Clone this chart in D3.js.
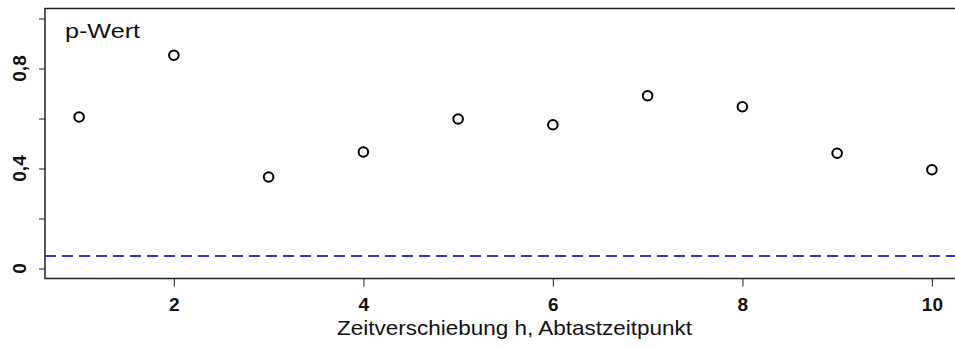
<!DOCTYPE html>
<html>
<head>
<meta charset="utf-8">
<script src="https://cdn.jsdelivr.net/npm/d3@7"></script>
<style>
  body { margin: 0; background: #fff; }
  svg { display: block; overflow: hidden; }
</style>
</head>
<body>
<svg id="chart"></svg>
<script>
// lags (h) and p-values
var lags = [1, 2, 3, 4, 5, 6, 7, 8, 9, 10]
var pValues = [0.606, 0.853, 0.366, 0.466, 0.598, 0.575, 0.691, 0.647, 0.461, 0.395]
var alpha = 0.05
var xTicks = [2, 4, 6, 8, 10]
var yTicks = [0, 0.2, 0.4, 0.6, 0.8, 1.0]
var yLabelled = [0, 0.4, 0.8]

var dimensions = {
  width: 955,
  height: 347,
  margin: { top: 8.5, bottom: 68.5, left: 45, right: -11 }
}
dimensions.boundedWidth = dimensions.width - dimensions.margin.left - dimensions.margin.right
dimensions.boundedHeight = dimensions.height - dimensions.margin.top - dimensions.margin.bottom

var svg = d3.select("#chart")
  .attr("width", dimensions.width)
  .attr("height", dimensions.height)

// R style: 4% padding around the data range
var xScale = d3.scaleLinear()
  .domain([0.64, 10.36])
  .range([dimensions.margin.left, dimensions.margin.left + dimensions.boundedWidth])

var yScale = d3.scaleLinear()
  .domain([-0.04, 1.04])
  .range([dimensions.margin.top + dimensions.boundedHeight, dimensions.margin.top])

var fmt = function (d) { return String(d).replace(".", ",") }

// x axis
var xAxis = svg.append("g")
  .attr("transform", "translate(0," + yScale(-0.04) + ")")
  .call(d3.axisBottom(xScale).tickValues(xTicks).tickSize(8).tickPadding(11).tickFormat(d3.format("d")))
xAxis.select(".domain").remove()
xAxis.selectAll("line").attr("stroke", "#444").attr("stroke-width", 1.2)
xAxis.selectAll("text")
  .attr("font-family", "Liberation Sans, Arial, sans-serif")
  .attr("font-size", 19)
  .attr("font-weight", "bold")
  .attr("fill", "#111")

// y axis
var yAxis = svg.append("g")
  .attr("transform", "translate(" + xScale(0.64) + ",0)")
  .call(d3.axisLeft(yScale).tickValues(yTicks).tickSize(6).tickFormat(""))
yAxis.select(".domain").remove()
yAxis.selectAll("line").attr("stroke", "#444").attr("stroke-width", 1.2)

svg.append("g")
  .selectAll("text")
  .data(yLabelled)
  .enter()
  .append("text")
  .attr("transform", function (d) { return "translate(26," + yScale(d) + ") rotate(-90)" })
  .attr("text-anchor", "middle")
  .attr("font-family", "Liberation Sans, Arial, sans-serif")
  .attr("font-size", 19)
  .attr("font-weight", "bold")
  .attr("fill", "#111")
  .text(fmt)

// frame
svg.append("rect")
  .attr("x", xScale(0.64))
  .attr("y", yScale(1.04))
  .attr("width", xScale(10.36) - xScale(0.64))
  .attr("height", yScale(-0.04) - yScale(1.04))
  .attr("fill", "none")
  .attr("stroke", "#222")
  .attr("stroke-width", 1.5)

// significance level
svg.append("line")
  .attr("x1", xScale(0.64))
  .attr("x2", xScale(10.36))
  .attr("y1", yScale(alpha))
  .attr("y2", yScale(alpha))
  .attr("stroke", "#3535c8")
  .attr("stroke-width", 2)
  .attr("stroke-dasharray", "11,6")

// points
svg.append("g")
  .selectAll("circle")
  .data(lags)
  .enter()
  .append("circle")
  .attr("cx", function (d) { return xScale(d) })
  .attr("cy", function (d, i) { return yScale(pValues[i]) })
  .attr("r", 4.8)
  .attr("fill", "none")
  .attr("stroke", "#000")
  .attr("stroke-width", 2)

// labels
svg.append("text")
  .attr("x", 65)
  .attr("y", 38)
  .attr("font-family", "Liberation Sans, Arial, sans-serif")
  .attr("font-size", 20)
  .attr("textLength", 75)
  .attr("lengthAdjust", "spacingAndGlyphs")
  .attr("fill", "#111")
  .text("p-Wert")

svg.append("text")
  .attr("x", 337)
  .attr("y", 335)
  .attr("font-family", "Liberation Sans, Arial, sans-serif")
  .attr("font-size", 21)
  .attr("textLength", 355)
  .attr("lengthAdjust", "spacingAndGlyphs")
  .attr("fill", "#111")
  .text("Zeitverschiebung h, Abtastzeitpunkt")
</script>
</body>
</html>
